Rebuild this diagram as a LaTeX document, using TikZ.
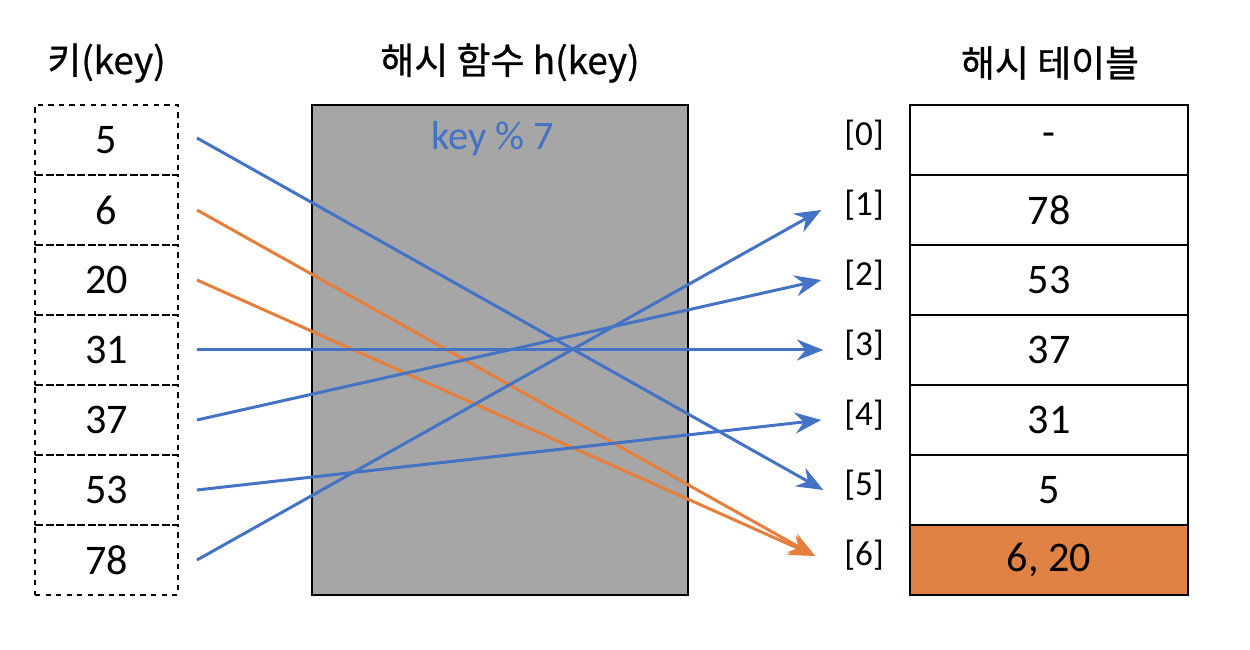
\documentclass[tikz,border=0pt]{standalone}
\usepackage{fontspec}
\setmainfont{Carlito}
\newfontfamily\cjk[FakeBold=0.8]{Noto Sans CJK KR}
\usetikzlibrary{positioning, arrows.meta}
\definecolor{keyblue}{RGB}{68, 114, 196}
\definecolor{hashorange}{RGB}{230, 126, 60}
\definecolor{slotorange}{RGB}{224, 130, 68}
\definecolor{funcgray}{RGB}{166, 166, 166}

\begin{document}
\begin{tikzpicture}[
    keycell/.style={
      draw, dashed, line width=1pt, minimum width=2.86cm,
      minimum height=1.4cm, outer sep=0pt, font=\fontsize{24}{28}\selectfont
    },
    slot/.style={
      draw, line width=1.1pt, minimum width=5.56cm,
      minimum height=1.4cm, outer sep=0pt, font=\fontsize{24}{28}\selectfont
    },
    index/.style={font=\fontsize{20}{24}\selectfont},
    heading/.style={font=\cjk\fontsize{21}{26}\selectfont},
    hasharrow/.style={line width=1.7pt, -{Stealth[length=15pt, width=12pt, inset=5pt]}},
    node distance=0pt,
]
    \useasboundingbox (0,0) rectangle (25,13);

    % Keys
    \node[keycell] (k5) at (2.13,10.2) {5};
    \node[keycell, below=of k5] (k6) {6};
    \node[keycell, below=of k6] (k20) {20};
    \node[keycell, below=of k20] (k31) {31};
    \node[keycell, below=of k31] (k37) {37};
    \node[keycell, below=of k37] (k53) {53};
    \node[keycell, below=of k53] (k78) {78};

    % Hash function
    \node[draw, line width=1.1pt, fill=funcgray, minimum width=7.52cm,
          minimum height=9.8cm, outer sep=0pt] (func) at (10,6) {};
    \node[keyblue, font=\fontsize{23}{27}\selectfont, below=0.2cm of func.north,
          xshift=-0.14cm] (formula) {key \% 7};

    % Hash table
    \node[slot] (t0) at (20.98,10.2) {-};
    \node[slot, below=of t0] (t1) {78};
    \node[slot, below=of t1] (t2) {53};
    \node[slot, below=of t2] (t3) {37};
    \node[slot, below=of t3] (t4) {31};
    \node[slot, below=of t4] (t5) {5};
    \node[slot, fill=slotorange, below=of t5] (t6) {6, 20};

    % Indices
    \node[index, left=0.4cm of t0, yshift=0.1cm] (i0) {[0]};
    \node[index, left=0.4cm of t1, yshift=0.1cm] (i1) {[1]};
    \node[index, left=0.4cm of t2, yshift=0.1cm] (i2) {[2]};
    \node[index, left=0.4cm of t3, yshift=0.1cm] (i3) {[3]};
    \node[index, left=0.4cm of t4, yshift=0.1cm] (i4) {[4]};
    \node[index, left=0.4cm of t5, yshift=0.1cm] (i5) {[5]};
    \node[index, left=0.4cm of t6, yshift=0.1cm] (i6) {[6]};

    % Labels
    \node[heading] (keyhead) at (2.13,11.74) {키(key)};
    \node[heading] (funchead) at (10.2,11.74) {해시 함수 h(key)};
    \node[heading] (tablehead) at (21,11.74) {해시 테이블};

    % Mappings
    \draw[hasharrow, keyblue] ([xshift=0.38cm, yshift=0.04cm]k5.east) -- ([xshift=-0.3cm, yshift=-0.1cm]i5.west);
    \draw[hasharrow, hashorange] ([xshift=0.38cm]k6.east) -- ([xshift=-0.46cm, yshift=-0.02cm]i6.west);
    \draw[hasharrow, hashorange] ([xshift=0.38cm]k20.east) -- ([xshift=-0.46cm, yshift=-0.02cm]i6.west);
    \draw[hasharrow, keyblue] ([xshift=0.38cm]k31.east) -- ([xshift=-0.3cm, yshift=-0.1cm]i3.west);
    \draw[hasharrow, keyblue] ([xshift=0.38cm]k37.east) -- ([xshift=-0.34cm, yshift=-0.1cm]i2.west);
    \draw[hasharrow, keyblue] ([xshift=0.38cm]k53.east) -- ([xshift=-0.34cm, yshift=-0.1cm]i4.west);
    \draw[hasharrow, keyblue] ([xshift=0.38cm]k78.east) -- ([xshift=-0.34cm, yshift=-0.1cm]i1.west);
\end{tikzpicture}
\end{document}
